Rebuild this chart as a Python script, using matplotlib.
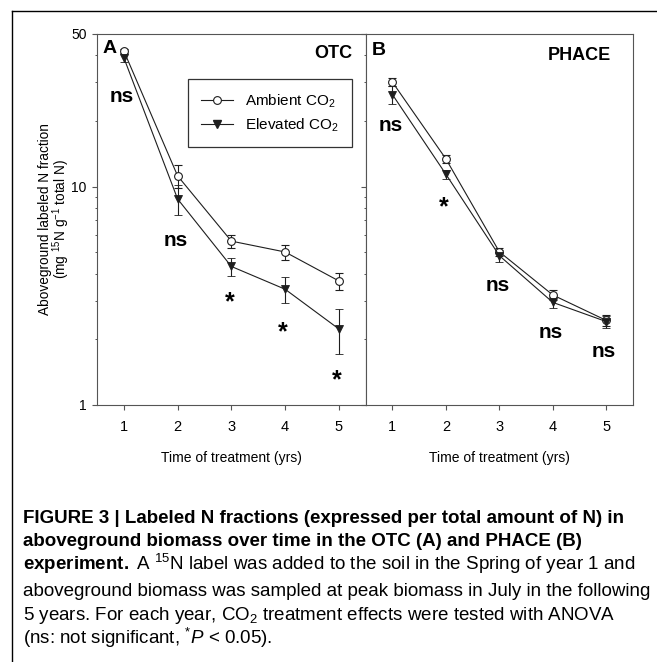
import matplotlib
matplotlib.use('Agg')
import matplotlib.pyplot as plt
from matplotlib.lines import Line2D
from matplotlib.ticker import FixedLocator, FixedFormatter, NullFormatter

plt.rcParams['font.family'] = ['Liberation Sans', 'DejaVu Sans']
plt.rcParams['mathtext.fontset'] = 'custom'
plt.rcParams['mathtext.rm'] = 'Liberation Sans'
plt.rcParams['mathtext.it'] = 'Liberation Sans:italic'
plt.rcParams['mathtext.bf'] = 'Liberation Sans:bold'

years = [1, 2, 3, 4, 5]

# OTC (panel A)
otc_amb = [41.8, 11.2, 5.63, 5.02, 3.70]
otc_amb_se = [0.9, 1.3, 0.38, 0.39, 0.34]
otc_elev = [38.9, 8.78, 4.31, 3.39, 2.23]
otc_elev_se = [1.6, 1.38, 0.40, 0.46, 0.51]
otc_sig = ['ns', 'ns', '*', '*', '*']

# PHACE (panel B)
phace_amb = [30.1, 13.4, 5.03, 3.19, 2.44]
phace_amb_se = [1.3, 0.6, 0.2, 0.16, 0.15]
phace_elev = [26.4, 11.4, 4.83, 2.95, 2.41]
phace_elev_se = [2.5, 0.55, 0.3, 0.16, 0.15]
phace_sig = ['ns', '*', 'ns', 'ns', 'ns']

y_major = [1, 10, 50]
y_major_labels = ['1', '10', '50']
y_minor = [2, 3, 4, 5, 6, 7, 8, 9, 20, 30, 40]

# where the significance labels sit (data units: baseline for ns, centre for *)
otc_sig_y = [24.4, 5.32, 3.20, 2.33, 1.40]
phace_sig_y = [17.9, 8.72, 3.31, 2.02, 1.655]

W, H = 657, 662
fig = plt.figure(figsize=(W / 100, H / 100), dpi=100)

line_c = '#1e1e1e'
spine_c = '#555555'


def px(x, y):
    return x / W, 1 - y / H


axA = fig.add_axes([97 / W, 1 - 405 / H, 268.7 / W, 371 / H])
axB = fig.add_axes([365.7 / W, 1 - 405 / H, 267.3 / W, 371 / H])

panels = [
    (axA, otc_amb, otc_amb_se, otc_elev, otc_elev_se, otc_sig, otc_sig_y),
    (axB, phace_amb, phace_amb_se, phace_elev, phace_elev_se, phace_sig, phace_sig_y),
]

for ax, amb, amb_se, elev, elev_se, sig, sig_y in panels:
    ax.errorbar(years, amb, yerr=amb_se, color=line_c, lw=0.8, marker='o', ms=5.6,
                mfc='white', mec=line_c, mew=0.8, capsize=2.9, capthick=0.8,
                elinewidth=0.8, zorder=3)
    ax.errorbar(years, elev, yerr=elev_se, color=line_c, lw=0.8, marker='v', ms=6,
                mfc=line_c, mec=line_c, mew=0.6, capsize=2.9, capthick=0.8,
                elinewidth=0.8, zorder=3)
    ax.set_yscale('log')
    ax.set_ylim(1, 50)
    ax.set_xlim(0.5, 5.5)
    ax.set_xticks(years)
    ax.set_xticklabels([str(y) for y in years])
    ax.yaxis.set_major_locator(FixedLocator(y_major))
    ax.yaxis.set_minor_locator(FixedLocator(y_minor))
    ax.yaxis.set_minor_formatter(NullFormatter())
    for s in ax.spines.values():
        s.set_color(spine_c)
        s.set_linewidth(0.8)
    ax.tick_params(axis='both', which='major', direction='out', length=3.6,
                   width=0.8, color=spine_c, labelsize=10.5)
    ax.tick_params(axis='y', which='minor', direction='out', length=1.8,
                   width=0.7, color=spine_c)
    ax.tick_params(axis='x', pad=7.5)
    ax.tick_params(axis='y', pad=4, labelsize=10)
    ax.set_xlabel('Time of treatment (yrs)', fontsize=10)
    ax.xaxis.label.set_va('baseline')
    ax.xaxis.set_label_coords(0.5, -0.1528)
    for x, lab, yv in zip(years, sig, sig_y):
        if lab == 'ns':
            ax.annotate(lab, (x, yv), xytext=(-1.5, 0), textcoords='offset points',
                        ha='center', va='baseline', fontsize=15, fontweight='bold')
        else:
            ax.annotate(lab, (x, yv), xytext=(-1.5, -10.5), textcoords='offset points',
                        ha='center', va='baseline', fontsize=18, fontweight='bold')

axA.yaxis.set_major_formatter(FixedFormatter(y_major_labels))
axB.yaxis.set_major_formatter(NullFormatter())

axA.text(0.022, 0.948, 'A', transform=axA.transAxes, fontsize=14, fontweight='bold',
         ha='left', va='baseline')
axA.text(0.9516, 0.9345, 'OTC', transform=axA.transAxes, fontsize=13, fontweight='bold',
         ha='right', va='baseline')
axB.text(0.0224, 0.943, 'B', transform=axB.transAxes, fontsize=14, fontweight='bold',
         ha='left', va='baseline')
axB.text(0.918, 0.931, 'PHACE', transform=axB.transAxes, fontsize=13, fontweight='bold',
         ha='right', va='baseline')

handles = [
    Line2D([], [], color=line_c, lw=0.8, marker='o', ms=5.6, mfc='white', mec=line_c, mew=0.8),
    Line2D([], [], color=line_c, lw=0.8, marker='v', ms=6, mfc=line_c, mec=line_c),
]
leg = axA.legend(handles, ['Ambient CO$_2$', 'Elevated CO$_2$'], loc='upper left',
                 bbox_to_anchor=(0.34, 0.878), borderaxespad=0, fancybox=False,
                 edgecolor='#333333', framealpha=1, fontsize=11, handlelength=2.1,
                 handletextpad=0.75, borderpad=0.85, labelspacing=0.45, numpoints=1)
leg.get_frame().set_linewidth(0.9)

# y label, two lines
fig.text(*px(45, 219), 'Aboveground labeled N fraction', rotation=90,
         ha='center', va='center', fontsize=9.8)
fig.text(*px(61.5, 219), '(mg $^{15}$N g$^{-1}$ total N)', rotation=90,
         ha='center', va='center', fontsize=9.8)

# frame around the figure panel
fig.add_artist(Line2D([12 / W, 12 / W], [0, 1 - 11 / H], color='black', lw=1.0,
                      transform=fig.transFigure))
fig.add_artist(Line2D([12 / W, 1], [1 - 11 / H, 1 - 11 / H], color='black', lw=1.0,
                      transform=fig.transFigure))

caption = [
    (r'FIGURE 3 | Labeled N fractions (expressed per total amount of N) in', 'bold', 523),
    (r'aboveground biomass over time in the OTC (A) and PHACE (B)', 'bold', 546.5),
    (r'$\mathbf{experiment.}$ A $^{15}$N label was added to the soil in the Spring of year 1 and',
     'normal', 570.5),
    (r'aboveground biomass was sampled at peak biomass in July in the following', 'normal', 596),
    (r'5 years. For each year, CO$_2$ treatment effects were tested with ANOVA', 'normal', 620),
    (r'(ns: not significant, $^{*}P$ < 0.05).', 'normal', 644),
]
for txt, wt, yb in caption:
    fig.text(*px(22.7, yb), txt, fontsize=13.5, fontweight=wt, ha='left', va='baseline')

fig.savefig('out.png', dpi=100)
